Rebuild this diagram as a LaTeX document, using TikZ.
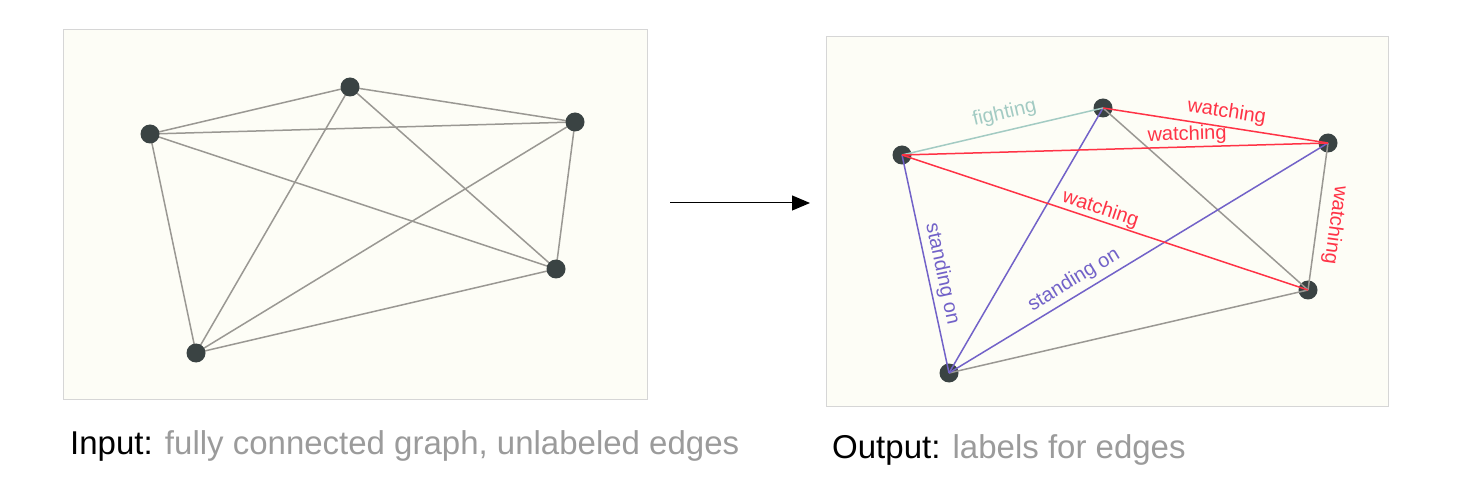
\documentclass[tikz,border=0pt]{standalone}
\usepackage{fontspec}
\setmainfont{Liberation Sans}
\usetikzlibrary{arrows.meta,backgrounds}
\definecolor{bgc}{HTML}{FDFDF6}
\definecolor{framec}{HTML}{D6D6D6}
\definecolor{nodec}{HTML}{3A4343}
\definecolor{edgec}{HTML}{9A9893}
\definecolor{redc}{HTML}{FF3346}
\definecolor{purc}{HTML}{7262C8}
\definecolor{tealc}{HTML}{A3CBC3}
\definecolor{capgray}{HTML}{9B9B9B}
\tikzset{
  panel/.style={draw=framec, fill=bgc, line width=1pt},
  vtx/.style={circle, fill=nodec, minimum size=19pt, inner sep=0pt},
  gedge/.style={draw=edgec, line width=1.5pt},
  redge/.style={draw=redc, line width=1.5pt},
  pedge/.style={draw=purc, line width=1.5pt},
  tedge/.style={draw=tealc, line width=1.5pt},
  elab/.style={font=\fontsize{20}{24}\selectfont, sloped, inner sep=2pt},
  captxt/.style={font=\fontsize{33}{40}\selectfont, anchor=base west, inner sep=0pt},
}
\begin{document}
\begin{tikzpicture}[x=1pt,y=-1pt]
\useasboundingbox (0,0) rectangle (1462,478);
% ---------- left panel ----------
\node[vtx] (l1) at (150,134) {};
\node[vtx] (l2) at (350,87) {};
\node[vtx] (l3) at (575,122) {};
\node[vtx] (l4) at (556,269) {};
\node[vtx] (l5) at (196,353) {};
\begin{scope}[on background layer]
  \draw[panel] (63,30) rectangle (647,399);
  \draw[gedge] (l1.center) -- (l2.center);
  \draw[gedge] (l1.center) -- (l3.center);
  \draw[gedge] (l1.center) -- (l4.center);
  \draw[gedge] (l1.center) -- (l5.center);
  \draw[gedge] (l2.center) -- (l3.center);
  \draw[gedge] (l2.center) -- (l4.center);
  \draw[gedge] (l2.center) -- (l5.center);
  \draw[gedge] (l3.center) -- (l4.center);
  \draw[gedge] (l3.center) -- (l5.center);
  \draw[gedge] (l4.center) -- (l5.center);
\end{scope}
% ---------- arrow ----------
\coordinate (as) at (670,203);
\coordinate (ae) at (810,203);
\draw[-{Triangle[length=18pt,width=15pt]}, line width=1pt] (as) -- (ae);
% ---------- right panel ----------
\draw[panel] (826,37) rectangle (1388,406);
\node[vtx] (A) at (902,155) {};
\node[vtx] (B) at (1103,108) {};
\node[vtx] (C) at (1328,143) {};
\node[vtx] (D) at (1308,290) {};
\node[vtx] (E) at (949,373) {};
\draw[gedge] (C.center) -- (D.center);
\draw[gedge] (B.center) -- (D.center);
\draw[gedge] (D.center) -- (E.center);
\draw[pedge] (A.center) -- node[elab, above=2pt, pos=0.56, text=purc] {standing on} (E.center);
\draw[pedge] (B.center) -- (E.center);
\draw[pedge] (E.center) -- node[elab, above=2.5pt, pos=0.35, text=purc] {standing on} (C.center);
\draw[tedge] (A.center) -- node[elab, above=5pt, pos=0.53, text=tealc] {fighting} (B.center);
\draw[redge] (B.center) -- node[elab, above=2.5pt, pos=0.54, text=redc] {watching} (C.center);
\draw[redge] (A.center) -- node[elab, above=0pt, pos=0.67, text=redc] {watching} (C.center);
\draw[redge] (A.center) -- node[elab, above=-1pt, pos=0.48, text=redc] {watching} (D.center);
\path (C.center) -- node[elab, allow upside down, above=6.5pt, pos=0.54, text=redc] {watching} (D.center);
% ---------- captions ----------
\node[captxt] (capin) at (70,454) {Input: \textcolor{capgray}{fully connected graph, unlabeled edges}};
\node[captxt] (capout) at (832,458) {Output: \textcolor{capgray}{labels for edges}};
\end{tikzpicture}
\end{document}
